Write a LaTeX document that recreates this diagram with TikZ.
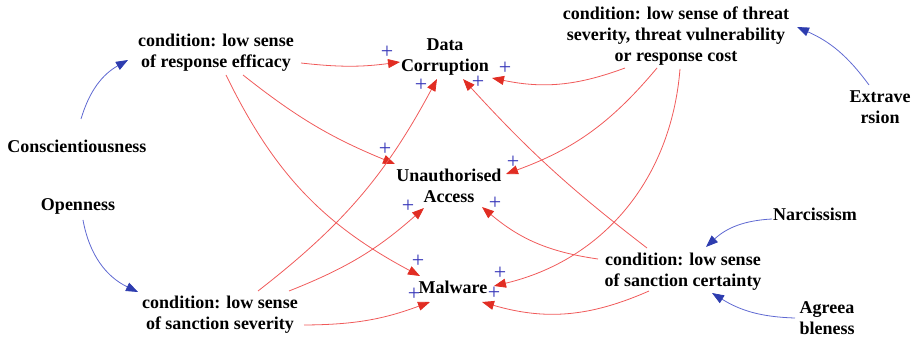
\documentclass[tikz,border=0pt]{standalone}
\usepackage{fontspec}
\setmainfont{Liberation Serif}
\usetikzlibrary{arrows.meta}
\definecolor{linkred}{RGB}{240,90,90}
\definecolor{tipred}{RGB}{225,45,35}
\definecolor{linkblue}{RGB}{95,105,210}
\definecolor{tipblue}{RGB}{45,60,175}
\definecolor{plusblue}{RGB}{55,55,185}
\begin{document}
\begin{tikzpicture}[x=1pt,y=-1pt,
  varnode/.style={font=\fontsize{18}{21}\selectfont\bfseries, align=center, inner sep=0pt},
  plink/.style={draw=linkred, line width=0.8pt, -{Triangle[length=12pt,width=9pt,color=tipred]}},
  tlink/.style={draw=linkblue, line width=0.8pt, -{Triangle[length=12pt,width=9pt,color=tipblue]}},
  sgn/.style={font=\fontsize{22}{22}\selectfont, text=plusblue, inner sep=0pt}]
\useasboundingbox (0,0) rectangle (922,342);

% variables
\node[varnode] (rse) at (216,53) {condition: low sense\\of response efficacy};
\node[varnode] (dc)  at (445,57.5) {Data\\Corruption};
\node[varnode] (thr) at (676,36) {condition: low sense of threat\\severity, threat vulnerability\\or response cost};
\node[varnode] (ext) at (880,107.5) {Extrave\\rsion};
\node[varnode] (con) at (77,146) {Conscientiousness};
\node[varnode] (opn) at (78,206) {Openness};
\node[varnode] (ss)  at (220,315) {condition: low sense\\of sanction severity};
\node[varnode] (ua)  at (449,185.5) {Unauthorised\\Access};
\node[varnode] (mal) at (453,287) {Malware};
\node[varnode] (sc)  at (683,272) {condition: low sense\\of sanction certainty};
\node[varnode] (nar) at (815,214) {Narcissism};
\node[varnode] (agr) at (827,318) {Agreea\\bleness};

% personality traits
\draw[tlink] ([shift={(4,-27)}]con.center) to[bend left=22] ([shift={(-88,7)}]rse.center);
\draw[tlink] ([shift={(5,14)}]opn.center) to[bend right=27] ([shift={(-82,-23)}]ss.center);
\draw[tlink] ([shift={(-11,-22.5)}]ext.center) to[bend right=15] ([shift={(121,-9)}]thr.center);
\draw[tlink] ([shift={(-43,5)}]nar.center) to[bend right=20] ([shift={(23,-25)}]sc.center);
\draw[tlink] ([shift={(-32,0)}]agr.center) to[bend left=15] ([shift={(29,21)}]sc.center);

% positive links to the outcomes
\draw[plink] ([shift={(85,10)}]rse.center) to[bend right=7] ([shift={(-45,4.5)}]dc.center);
\draw[plink] ([shift={(27,22)}]rse.center) to[bend right=8] ([shift={(-54,-21.5)}]ua.center);
\draw[plink] ([shift={(10,22)}]rse.center) to[bend right=18] ([shift={(-33,-11)}]mal.center);
\draw[plink] ([shift={(38,-24)}]ss.center) to[bend right=12] ([shift={(-8,21.5)}]dc.center);
\draw[plink] ([shift={(69,-24)}]ss.center) to[bend right=10] ([shift={(-25,22.5)}]ua.center);
\draw[plink] ([shift={(84,10)}]ss.center) to[bend right=10] ([shift={(-23,15)}]mal.center);
\draw[plink] ([shift={(-51,32)}]thr.center) to[bend left=16] ([shift={(47,20.5)}]dc.center);
\draw[plink] ([shift={(-19,32)}]thr.center) to[bend left=15] ([shift={(57,-11.5)}]ua.center);
\draw[plink] ([shift={(4,33)}]thr.center) to[bend left=36] ([shift={(41,-1)}]mal.center);
\draw[plink] ([shift={(-36,-24)}]sc.center) to[bend left=5] ([shift={(18,21.5)}]dc.center);
\draw[plink] ([shift={(-85,-13)}]sc.center) to[bend left=16] ([shift={(33,21.5)}]ua.center);
\draw[plink] ([shift={(-34,19)}]sc.center) to[bend left=20] ([shift={(29,15)}]mal.center);

% polarity signs
\node[sgn] (p1)  at (387,52)  {+};
\node[sgn] (p2)  at (505,68)  {+};
\node[sgn] (p3)  at (421,85)  {+};
\node[sgn] (p4)  at (478,82)  {+};
\node[sgn] (p5)  at (385,149) {+};
\node[sgn] (p6)  at (513,162) {+};
\node[sgn] (p7)  at (408,206) {+};
\node[sgn] (p8)  at (495,203) {+};
\node[sgn] (p9)  at (418,261) {+};
\node[sgn] (p10) at (500,273) {+};
\node[sgn] (p11) at (414,294) {+};
\node[sgn] (p12) at (494,293) {+};
\end{tikzpicture}
\end{document}
